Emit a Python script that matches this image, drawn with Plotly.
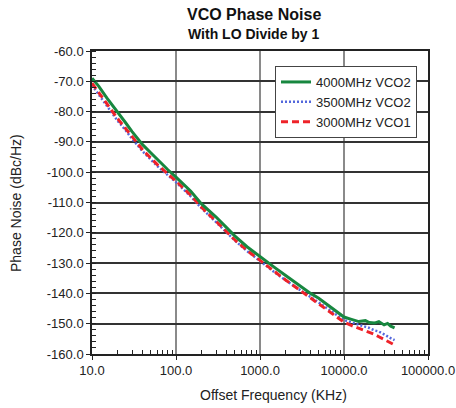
import plotly.graph_objects as go

freq = [10, 12, 15, 20, 25, 30, 40, 50, 60, 80, 100, 150, 200, 300, 400, 500, 700,
        1000, 1500, 2000, 3000, 4000, 5000, 7000, 10000, 12000, 15000, 18000, 20000,
        23000, 26000, 30000, 33000, 36000, 40000]

green_4000_vco2 = [-69.0, -71.6, -75.5, -80.3, -83.6, -86.6, -90.9, -93.6, -95.8, -99.2,
                   -101.6, -106.3, -110.4, -114.8, -118.3, -121.0, -124.6,
                   -127.9, -131.5, -134.0, -137.5, -140.0, -141.6, -144.5, -147.8,
                   -148.5, -149.3, -149.0, -149.6, -149.8, -149.3, -150.4, -149.9,
                   -150.8, -151.4]

blue_3500_vco2 = [-71.3, -74.3, -78.3, -82.9, -86.1, -89.0, -93.1, -95.8, -98.0, -101.0,
                  -103.3, -108.0, -111.8, -116.5, -119.9, -122.5, -126.0,
                  -129.4, -133.1, -135.6, -139.0, -141.4, -143.0, -145.8, -148.8,
                  -149.5, -150.3, -151.0, -151.4, -152.2, -152.6, -153.5, -154.3,
                  -154.8, -155.4]

red_3000_vco1 = [-70.6, -73.6, -77.6, -82.2, -85.5, -88.4, -92.6, -95.3, -97.5, -100.6,
                 -102.9, -107.6, -111.5, -116.2, -119.7, -122.3, -125.8,
                 -129.2, -133.0, -135.5, -139.0, -141.5, -143.3, -146.3, -149.5,
                 -150.5, -151.5, -152.3, -152.7, -153.5, -154.3, -155.2, -155.8,
                 -156.4, -157.0]

x_tick_vals = [10, 100, 1000, 10000, 100000]
x_tick_text = ["10.0", "100.0", "1000.0", "10000.0", "100000.0"]
y_tick_vals = [-60, -70, -80, -90, -100, -110, -120, -130, -140, -150, -160]
y_tick_text = ["-60.0", "-70.0", "-80.0", "-90.0", "-100.0", "-110.0", "-120.0",
               "-130.0", "-140.0", "-150.0", "-160.0"]

FONT = "Liberation Sans, Arial, sans-serif"
W, H = 456, 408
L, R, T, B = 92, 28, 51, 54

fig = go.Figure()
fig.add_trace(go.Scatter(x=freq, y=blue_3500_vco2, mode="lines", name="3500MHz VCO2",
                         line=dict(color="#5468dc", width=2.5, dash="2px,2px"), legendrank=2))
fig.add_trace(go.Scatter(x=freq, y=red_3000_vco1, mode="lines", name="3000MHz VCO1",
                         line=dict(color="#ee2229", width=3, dash="7px,4px"), legendrank=3))
fig.add_trace(go.Scatter(x=freq, y=green_4000_vco2, mode="lines", name="4000MHz VCO2",
                         line=dict(color="#17873f", width=3), legendrank=1))

pw, ph = W - L - R, H - T - B


def px_x(x):
    return (x - L) / pw


def px_y(y):
    return (H - B - y) / ph


fig.update_layout(
    width=W, height=H,
    margin=dict(l=L, r=R, t=T, b=B, autoexpand=False),
    paper_bgcolor="white", plot_bgcolor="white",
    font=dict(family=FONT, size=13, color="#222222"),
    showlegend=True,
    legend=dict(x=px_x(275), y=px_y(66), xanchor="left", yanchor="top",
                bgcolor="white", bordercolor="#444444", borderwidth=1,
                font=dict(size=13, color="#222222"), tracegroupgap=0,
                itemwidth=30),
    annotations=[
        dict(text="<b>VCO Phase Noise</b>", x=px_x(254), y=px_y(15), xref="paper", yref="paper",
             xanchor="center", yanchor="middle", showarrow=False,
             font=dict(size=16, color="#111111", family=FONT)),
        dict(text="<b>With LO Divide by 1</b>", x=px_x(254), y=px_y(34), xref="paper", yref="paper",
             xanchor="center", yanchor="middle", showarrow=False,
             font=dict(size=14, color="#111111", family=FONT)),
        dict(text="Offset Frequency (KHz)", x=px_x(273), y=px_y(395), xref="paper", yref="paper",
             xanchor="center", yanchor="middle", showarrow=False,
             font=dict(size=14, color="#222222", family=FONT)),
        dict(text="Phase Noise (dBc/Hz)", x=px_x(16), y=px_y(203), xref="paper", yref="paper",
             xanchor="center", yanchor="middle", showarrow=False, textangle=-90,
             font=dict(size=14, color="#222222", family=FONT)),
    ],
)

fig.update_xaxes(
    type="log", range=[1, 5], automargin=False,
    tickvals=x_tick_vals, ticktext=x_tick_text,
    ticks="outside", ticklen=4, tickcolor="#222222",
    showgrid=True, gridcolor="#8a8a8a", gridwidth=2,
    showline=True, linecolor="#222222", linewidth=1.5, mirror=True,
    minor=dict(ticks="inside", ticklen=4, tickcolor="#222222", showgrid=False,
               tickvals=[v * m for v in [10, 100, 1000, 10000] for m in range(2, 10)]),
    tickfont=dict(size=13, color="#222222"),
    zeroline=False,
)
fig.update_yaxes(
    range=[-160, -60], automargin=False,
    tickvals=y_tick_vals, ticktext=y_tick_text,
    ticks="outside", ticklen=4, tickcolor="#222222",
    showgrid=True, gridcolor="#333333", gridwidth=1.5,
    showline=True, linecolor="#222222", linewidth=1.5, mirror=True,
    minor=dict(ticks="inside", ticklen=4, tickcolor="#222222", dtick=2, showgrid=False),
    tickfont=dict(size=13, color="#222222"),
    zeroline=False,
)

fig.write_html("out.html", config={"displayModeBar": False},
               post_script="document.body.style.margin='0';document.body.style.padding='0';")
